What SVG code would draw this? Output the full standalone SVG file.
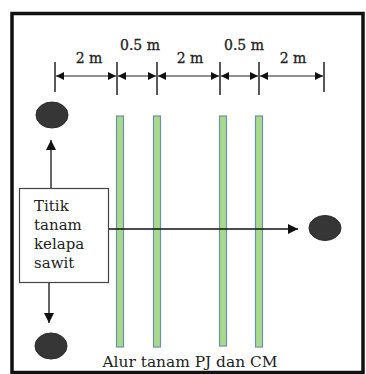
<svg xmlns="http://www.w3.org/2000/svg" width="366" height="374" viewBox="0 0 366 374">
<defs>
<marker id="ah" viewBox="0 0 10 10" refX="10" refY="5" markerWidth="8" markerHeight="8" markerUnits="userSpaceOnUse" orient="auto-start-reverse"><path d="M0,0L10,5L0,10z" fill="#111"/></marker>
<marker id="ab" viewBox="0 0 10 10" refX="10" refY="5" markerWidth="10" markerHeight="10" markerUnits="userSpaceOnUse" orient="auto"><path d="M0,0L10,5L0,10z" fill="#111"/></marker>
</defs>
<style>
.t{font-family:"DejaVu Serif","Liberation Serif",serif;fill:#222}
.d{font-size:14px;text-anchor:middle;stroke:#222;stroke-width:0.3}
.bar{fill:#a9d98c;stroke:#6f8fae;stroke-width:1.2}
.dot{fill:#363636;stroke:#2a2a2a;stroke-width:1}
.tick{stroke:#222;stroke-width:1.5}
.dim{stroke:#222;stroke-width:1.2;marker-start:url(#ah);marker-end:url(#ah)}
.con{stroke:#111;stroke-width:1.3;fill:none;marker-end:url(#ab)}
</style>
<rect width="366" height="374" fill="#fff"/>
<rect x="12" y="13.5" width="351" height="359" fill="none" stroke="#111" stroke-width="3.5"/>
<g id="dimensions">
<line class="tick" x1="55" y1="62" x2="55" y2="92"/>
<line class="tick" x1="117" y1="62" x2="117" y2="95"/>
<line class="tick" x1="157" y1="62" x2="157" y2="95"/>
<line class="tick" x1="220" y1="62" x2="220" y2="95"/>
<line class="tick" x1="259" y1="62" x2="259" y2="95"/>
<line class="tick" x1="324" y1="62" x2="324" y2="92"/>
<line class="dim" x1="56" y1="76" x2="116" y2="76"/>
<line class="dim" x1="118" y1="76" x2="156" y2="76"/>
<line class="dim" x1="158" y1="76" x2="219" y2="76"/>
<line class="dim" x1="221" y1="76" x2="258" y2="76"/>
<line class="dim" x1="260" y1="76" x2="323" y2="76"/>
<text class="t d" x="89" y="63">2 m</text>
<text class="t d" x="140" y="50">0.5 m</text>
<text class="t d" x="190" y="63">2 m</text>
<text class="t d" x="244" y="50">0.5 m</text>
<text class="t d" x="293" y="63">2 m</text>
</g>
<g id="rows">
<rect class="bar" x="116.5" y="116" width="7" height="231"/>
<rect class="bar" x="153.5" y="116" width="7" height="231"/>
<rect class="bar" x="219.5" y="116" width="7" height="230"/>
<rect class="bar" x="255.5" y="116" width="7" height="231"/>
<text class="t" x="190" y="367" font-size="14" text-anchor="middle" textLength="175" lengthAdjust="spacingAndGlyphs">Alur tanam PJ dan CM</text>
</g>
<g id="palm-top"><ellipse class="dot" cx="52" cy="115" rx="16" ry="13"/></g>
<g id="palm-bottom"><ellipse class="dot" cx="51" cy="346" rx="16" ry="13"/></g>
<g id="palm-right"><ellipse class="dot" cx="325" cy="228" rx="16" ry="12.5"/></g>
<g id="label-box">
<rect x="19.5" y="188.5" width="89" height="94" fill="#fff" stroke="#444" stroke-width="1.2"/>
<text class="t" font-size="15" x="34" y="211">Titik</text>
<text class="t" font-size="15" x="34" y="230">tanam</text>
<text class="t" font-size="15" x="34" y="249">kelapa</text>
<text class="t" font-size="15" x="34" y="268">sawit</text>
</g>
<g id="connectors">
<line class="con" x1="51" y1="188" x2="51" y2="140"/>
<line class="con" x1="49" y1="283" x2="49" y2="323"/>
<line class="con" x1="109" y1="229" x2="298" y2="229"/>
</g>
</svg>
